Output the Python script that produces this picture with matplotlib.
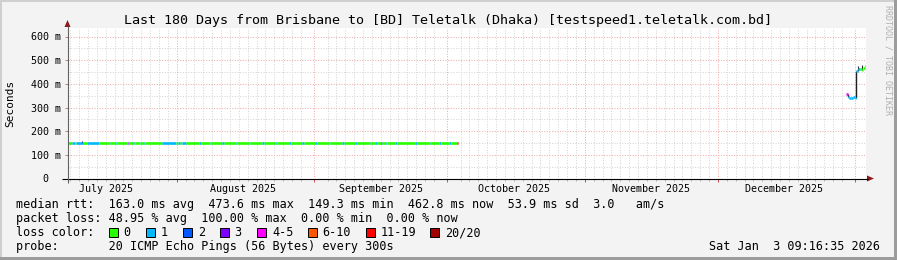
import datetime as dt
import matplotlib
matplotlib.use('Agg')
import matplotlib.pyplot as plt
from matplotlib.patches import Rectangle, Polygon

W, H = 897, 260
START = dt.datetime(2025, 7, 7, 9, 16, 35)
SPAN_DAYS = 180

TITLE = "Last 180 Days from Brisbane to [BD] Teletalk (Dhaka) [testspeed1.teletalk.com.bd]"
LOSS_LABELS = ['0', '1', '2', '3', '4-5', '6-10', '11-19', '20/20']
LOSS_COLORS = ['#26ff00', '#00b8ff', '#0059ff', '#7e00ff', '#ff00ff', '#ff5500', '#ff0000', '#a10000']

# first run of data: segment start (days since START), median rtt (ms), loss class index
run1_start = [0.0, 1.1, 1.6, 1.9, 3.2, 3.5, 4.5, 7.1, 9.4, 9.6, 10.9, 11.1, 13.4, 13.6, 13.9,
              15.0, 15.3, 16.1, 16.4, 17.3, 17.5, 21.4, 24.4, 25.0, 25.3, 25.9, 26.6,
              29.7, 30.0, 31.9, 32.2, 34.9, 35.3, 37.9, 38.2, 40.9, 41.2, 43.9, 44.3,
              46.9, 47.2, 49.9, 50.4, 52.9, 53.2, 55.9, 56.3, 58.9, 59.2, 61.9, 62.3,
              64.9, 65.2, 67.9, 68.3, 69.4, 69.8, 70.6, 70.9, 71.7, 72.0, 73.9, 74.3,
              78.4, 78.8, 81.5, 81.8, 83.7, 84.1, 86.0, 86.4, 87.7]
run1_rtt = [150, 150, 150, 150, 151, 150, 150, 150, 150, 150, 150, 150, 150, 151, 150,
            150, 150, 150, 150, 150, 150, 150, 150, 150, 150, 150, 150,
            150, 150, 150, 150, 150, 150, 150, 150, 150, 150, 150, 150,
            150, 150, 150, 150, 150, 150, 150, 150, 150, 150, 150, 150,
            150, 150, 150, 150, 150, 150, 151, 150, 150, 150, 150, 150,
            150, 150, 150, 150, 150, 150, 150, 150, 151]
run1_loss = [0, 1, 0, 1, 2, 0, 1, 0, 1, 0, 1, 0, 1, 4, 0,
             1, 0, 1, 0, 1, 0, 1, 0, 1, 0, 1, 0,
             1, 0, 1, 0, 1, 0, 1, 0, 1, 0, 1, 0,
             1, 0, 1, 0, 1, 0, 1, 0, 1, 0, 1, 0,
             1, 0, 1, 0, 1, 0, 2, 0, 1, 0, 1, 0,
             1, 0, 1, 0, 1, 0, 1, 0, 6]
run1_end = 88.1

# second run of data
run2_start = [175.6, 175.85, 176.1, 176.6, 177.1, 177.5, 177.8, 178.2, 178.6, 179.0, 179.4, 179.8]
run2_rtt = [358, 343, 340, 341, 343, 341, 455, 461, 463, 459, 469, 477]
run2_loss = [4, 1, 1, 1, 1, 1, 1, 1, 0, 0, 0, 0]
run2_end = 180.0

# smoke marks (day, low ms, high ms)
smoke_day = [3.3, 178.3, 179.1]
smoke_lo = [150, 455, 458]
smoke_hi = [157, 476, 478]

Y_TICKS = [0, 100, 200, 300, 400, 500, 600]
Y_TICK_LABELS = ['0  ', '100 m', '200 m', '300 m', '400 m', '500 m', '600 m']
Y_MINOR = [50, 150, 250, 350, 450, 550]
MONTH_LABELS = ['July 2025', 'August 2025', 'September 2025', 'October 2025',
                'November 2025', 'December 2025']
MONTH_MID = [dt.datetime(2025, m, 16) for m in range(7, 13)]
MONTH_START = [dt.datetime(2025, m, 1) for m in range(8, 13)] + [dt.datetime(2026, 1, 1)]

ROW1 = "median rtt:  163.0 ms avg  473.6 ms max  149.3 ms min  462.8 ms now  53.9 ms sd  3.0   am/s"
ROW2 = "packet loss: 48.95 % avg  100.00 % max  0.00 % min  0.00 % now"
ROW3 = "loss color:"
ROW4 = "probe:       20 ICMP Echo Pings (56 Bytes) every 300s"
STAMP = "Sat Jan  3 09:16:35 2026"
WATERMARK = "RRDTOOL / TOBI OETIKER"


def days(d):
    return (d - START).total_seconds() / 86400.0


MONO = 'DejaVu Sans Mono'
plt.rcParams['font.family'] = [MONO, 'DejaVu Sans']

fig = plt.figure(figsize=(W / 100, H / 100), dpi=100, facecolor='#f3f3f3')

# plot area
L, R, T, B = 67.5, 866, 28, 178.5
ax = fig.add_axes([L / W, (H - B) / H, (R - L) / W, (B - T) / H])
ax.set_facecolor('white')
ax.set_xlim(0, SPAN_DAYS)
ax.set_ylim(0, 600 * (B - T) / (B - 36.5))
for s in ax.spines.values():
    s.set_visible(False)

DOT = (0, (1, 1.6))
MINOR_C = '#d4d4d4'
MAJOR_C = '#eeaaaa'
# minor vertical grid every 2 days
g = dt.datetime(2025, 7, 8)
minor_x = []
while days(g) < SPAN_DAYS:
    if days(g) > 0:
        minor_x.append(days(g))
    g += dt.timedelta(days=2)
major_x = [days(d) for d in MONTH_START if days(d) < SPAN_DAYS]
minor_x = [x for x in minor_x if min(abs(x - m) for m in major_x) > 1.0]
for x in minor_x:
    ax.axvline(x, color=MINOR_C, lw=0.72, ls=DOT, zorder=1)
for y in Y_MINOR:
    ax.axhline(y, color=MINOR_C, lw=0.72, ls=DOT, zorder=1)
for x in major_x:
    ax.axvline(x, color=MAJOR_C, lw=0.72, ls=DOT, zorder=1.5)
for y in Y_TICKS[1:]:
    ax.axhline(y, color=MAJOR_C, lw=0.72, ls=DOT, zorder=1.5)

# ticks
ax.set_yticks(Y_TICKS)
ax.set_yticklabels(Y_TICK_LABELS, fontsize=7.2, fontfamily=MONO)
ax.tick_params(axis='y', length=2.2, width=0.72, color='#c08080', pad=2.6)
ax.set_xticks(major_x)
ax.set_xticklabels([''] * len(major_x))
ax.set_xticks(minor_x, minor=True)
ax.tick_params(axis='x', which='major', length=2.2, width=0.72, color='#d05050')
ax.tick_params(axis='x', which='minor', length=1.5, width=0.72, color='#b0b0b0')

for lab, d in zip(MONTH_LABELS, MONTH_MID):
    ax.text(days(d), -(192 - B) / (B - T), lab, transform=ax.get_xaxis_transform(),
            ha='center', va='baseline', fontsize=7.2, fontfamily=MONO, color='black')


def draw_run(starts, rtts, losses, end):
    ends = starts[1:] + [end]
    ax.hlines(rtts, starts, ends, colors=[LOSS_COLORS[k] for k in losses],
              lw=1.9, zorder=4)
    for i in range(1, len(starts)):
        if abs(rtts[i] - rtts[i - 1]) > 10:
            ax.vlines(starts[i], min(rtts[i], rtts[i - 1]), max(rtts[i], rtts[i - 1]),
                      colors='#202020', lw=1.0, zorder=3.5)


draw_run(run1_start, run1_rtt, run1_loss, run1_end)
draw_run(run2_start, run2_rtt, run2_loss, run2_end)
ax.vlines(smoke_day, smoke_lo, smoke_hi, colors='#303030', lw=0.8, zorder=3.4)

# overlay in pixel coordinates
ov = fig.add_axes([0, 0, 1, 1], zorder=5)
ov.set_xlim(0, W)
ov.set_ylim(H, 0)
ov.axis('off')
ov.patch.set_alpha(0)

# frame
ov.add_patch(Rectangle((0, 0), W, 2, color='#cfcfcf', lw=0))
ov.add_patch(Rectangle((0, 0), 2, H, color='#cfcfcf', lw=0))
ov.add_patch(Rectangle((W - 3, 0), 3, H, color='#9c9c9c', lw=0))
ov.add_patch(Rectangle((0, H - 3), W, 3, color='#9c9c9c', lw=0))

# axes lines and arrows
ov.plot([62, 868], [178.5, 178.5], color='black', lw=0.8, solid_capstyle='butt')
ov.plot([67.5, 67.5], [182.5, 26], color='#606060', lw=0.8, solid_capstyle='butt')
ov.add_patch(Polygon([[867, 175.5], [874, 178.5], [867, 181.5]], closed=True,
                     color='#8b1a1a', lw=0))
ov.add_patch(Polygon([[64.5, 27], [67.5, 20], [70.5, 27]], closed=True,
                     color='#8b1a1a', lw=0))

# texts
ov.text(W / 2, 24, TITLE, ha='center', va='baseline', fontsize=9.6, fontfamily=MONO)
ov.text(10.5, (T + B) / 2, 'Seconds', rotation=90, ha='center', va='center',
        fontsize=8, fontfamily=MONO)
ov.text(888, 5, WATERMARK, rotation=270, ha='center', va='top', fontsize=6,
        fontfamily=MONO, color='#b0b0b0')

LX = 16
FS = 8.45
ov.text(LX, 208.3, ROW1, ha='left', va='baseline', fontsize=FS, fontfamily=MONO)
ov.text(LX, 222.3, ROW2, ha='left', va='baseline', fontsize=FS, fontfamily=MONO)
ov.text(LX, 236.3, ROW3, ha='left', va='baseline', fontsize=FS, fontfamily=MONO)
ov.text(LX, 250.3, ROW4, ha='left', va='baseline', fontsize=FS, fontfamily=MONO)
ov.text(880, 250.3, STAMP, ha='right', va='baseline', fontsize=FS, fontfamily=MONO)

SW_X = [108.5, 145.5, 183, 219.5, 257, 307.5, 365.5, 430]
for x, lab, col in zip(SW_X, LOSS_LABELS, LOSS_COLORS):
    ov.add_patch(Rectangle((x, 227.8), 9, 9, facecolor=col, edgecolor='black', lw=0.7))
    ov.text(x + 15, 236.3, lab, ha='left', va='baseline', fontsize=FS, fontfamily=MONO)

fig.savefig('out.png', dpi=100, facecolor=fig.get_facecolor())
